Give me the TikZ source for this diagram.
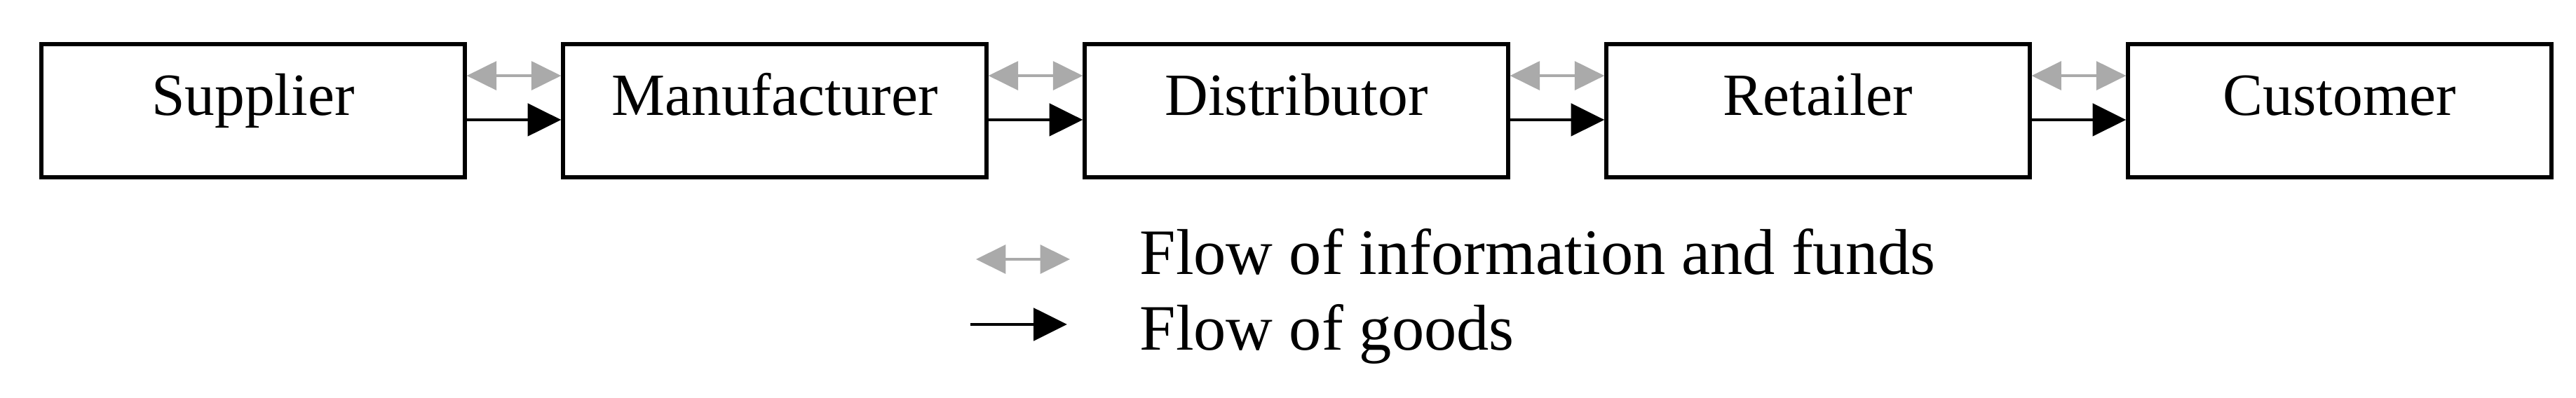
\documentclass[tikz,border=0pt]{standalone}
\usepackage{xcolor}
\usepackage{fontspec}
\setmainfont{Liberation Serif}
\usetikzlibrary{arrows.meta}
\definecolor{flowgray}{RGB}{170,170,170}

\begin{document}
\begin{tikzpicture}[
    stage/.style={draw,rectangle,line width=0.7pt,minimum width=2.755cm,minimum height=0.867cm,
      text height=7.5pt,text depth=5.7pt,font=\fontsize{11.1}{13}\selectfont},
    info/.style={flowgray,line width=0.5pt,{Triangle[length=5.5pt,width=5.3pt]}-{Triangle[length=5.5pt,width=5.3pt]}},
    goods/.style={black,line width=0.6pt,-{Triangle[length=6.2pt,width=6pt]}},
    legendtext/.style={anchor=base west,inner sep=0pt,font=\fontsize{12}{14}\selectfont}]
    \useasboundingbox (0,0) rectangle (16.761,-2.587);
    \node[stage] (sup) at (1.647,-0.721) {Supplier};
    \node[stage] (man) at (5.041,-0.721) {Manufacturer};
    \node[stage] (dis) at (8.435,-0.721) {Distributor};
    \node[stage] (ret) at (11.829,-0.721) {Retailer};
    \node[stage] (cus) at (15.223,-0.721) {Customer};
    \draw[info] ([yshift=0.228cm]sup.east) to ([yshift=0.228cm]man.west);
    \draw[info] ([yshift=0.228cm]man.east) to ([yshift=0.228cm]dis.west);
    \draw[info] ([yshift=0.228cm]dis.east) to ([yshift=0.228cm]ret.west);
    \draw[info] ([yshift=0.228cm]ret.east) to ([yshift=0.228cm]cus.west);
    \draw[goods] ([yshift=-0.059cm]sup.east) to ([yshift=-0.059cm]man.west);
    \draw[goods] ([yshift=-0.059cm]man.east) to ([yshift=-0.059cm]dis.west);
    \draw[goods] ([yshift=-0.059cm]dis.east) to ([yshift=-0.059cm]ret.west);
    \draw[goods] ([yshift=-0.059cm]ret.east) to ([yshift=-0.059cm]cus.west);
    % legend
    \coordinate (infoa) at (6.350,-1.688);
    \coordinate (infob) at (6.962,-1.688);
    \coordinate (goodsa) at (6.314,-2.112);
    \coordinate (goodsb) at (6.943,-2.112);
    \draw[info] (infoa) to (infob);
    \draw[goods] (goodsa) to (goodsb);
    \node[legendtext] (infotext) at (7.409,-1.788) {Flow of information and funds};
    \node[legendtext] (goodstext) at (7.409,-2.281) {Flow of goods};
\end{tikzpicture}
\end{document}
